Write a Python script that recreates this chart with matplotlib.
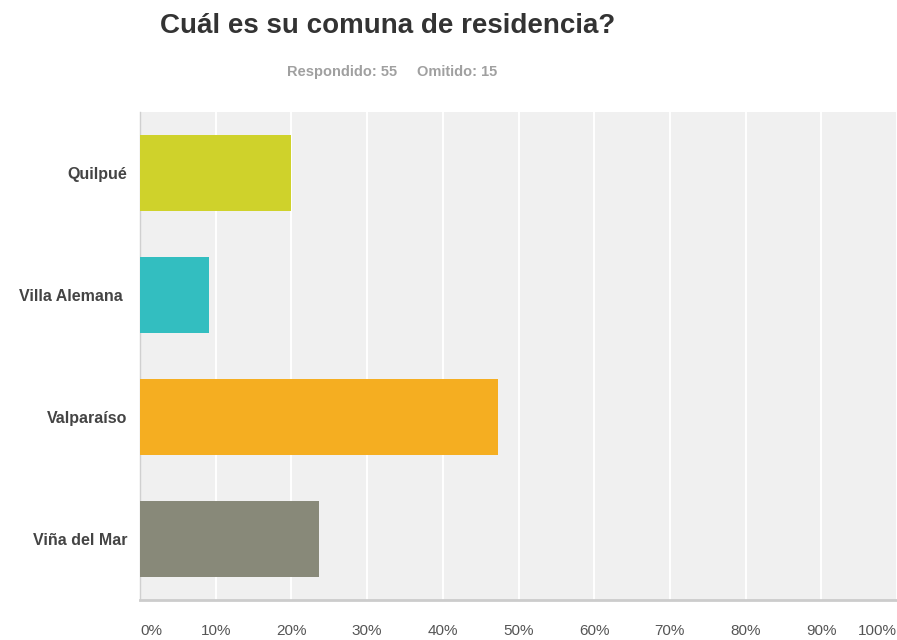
import matplotlib.pyplot as plt
from matplotlib.ticker import FuncFormatter

plt.rcParams['font.family'] = ['Liberation Sans', 'DejaVu Sans']

# respuestas por comuna (55 respondidos)
comunas = ['Quilpué', 'Villa Alemana ', 'Valparaíso', 'Viña del Mar']
respuestas = [11, 5, 26, 13]
total = 55
colores = ['#cfd22b', '#33bec0', '#f5ae21', '#888979']
ticks = [0, 10, 20, 30, 40, 50, 60, 70, 80, 90, 100]

porcentajes = [r / total * 100 for r in respuestas]

fig = plt.figure(figsize=(8.97, 6.40), dpi=100)
ax = fig.add_axes([140 / 897, 40 / 640, 757 / 897, 488 / 640])
ax.set_facecolor('#f0f0f0')

ax.barh(range(len(comunas)), porcentajes, height=0.62, color=colores, zorder=3)

ax.set_xlim(0, 100)
ax.set_ylim(len(comunas) - 0.5, -0.5)
ax.set_xticks(ticks)
ax.xaxis.set_major_formatter(FuncFormatter(lambda v, p: f'{v:.0f}%'))
ax.set_yticks(range(len(comunas)))
ax.set_yticklabels(comunas, fontsize=11.5, fontweight='bold', color='#444444')
ax.tick_params(axis='x', length=0, pad=17, labelsize=11, labelcolor='#555555')
ax.tick_params(axis='y', length=0, pad=9)
ax.grid(axis='x', color='white', linewidth=1.4, zorder=1)

labels = ax.get_xticklabels()
labels[0].set_horizontalalignment('left')
labels[-1].set_horizontalalignment('right')

for s in ['top', 'right']:
    ax.spines[s].set_visible(False)
ax.spines['left'].set_color('#d0d0d0')
ax.spines['left'].set_linewidth(1)
ax.spines['bottom'].set_color('#cccccc')
ax.spines['bottom'].set_linewidth(2)

fig.text(388 / 897, 1 - 26 / 640, 'Cuál es su comuna de residencia?', ha='center', va='center',
         fontsize=20, fontweight='bold', color='#333333')
fig.text(397 / 897, 1 - 72 / 640, f'Respondido: {total}', ha='right', va='center',
         fontsize=10.5, fontweight='bold', color='#a0a0a0')
fig.text(417 / 897, 1 - 72 / 640, 'Omitido: 15', ha='left', va='center',
         fontsize=10.5, fontweight='bold', color='#a0a0a0')

fig.savefig('out.png', dpi=100, facecolor='white')
